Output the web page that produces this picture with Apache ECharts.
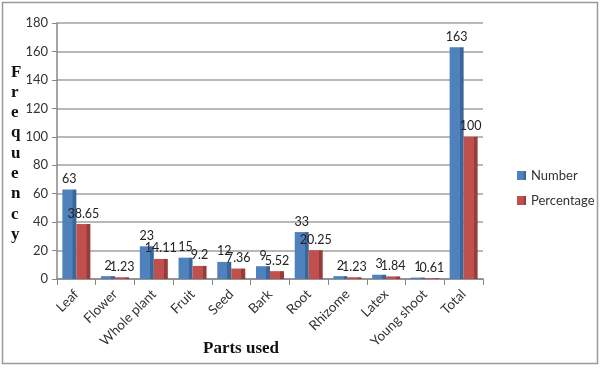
<!DOCTYPE html>
<html><head><meta charset="utf-8">
<script src="https://cdn.jsdelivr.net/npm/echarts@6/dist/echarts.min.js"></script>
<style>html,body{margin:0;padding:0;background:#fff}#c{width:601px;height:369px}</style>
</head><body><div id="c"></div>
<script>
var categories = ["Leaf","Flower","Whole plant","Fruit","Seed","Bark","Root","Rhizome","Latex","Young shoot","Total"];
var numberValues = [63,2,23,15,12,9,33,2,3,1,163];
var percentageValues = [38.65,1.23,14.11,9.2,7.36,5.52,20.25,1.23,1.84,0.61,100];
var yTicks = [0,20,40,60,80,100,120,140,160,180];

function grad(light, dark){
  return {type:'linear',x:0,y:0,x2:1,y2:0,colorStops:[
    {offset:0,color:light},{offset:0.72,color:light},{offset:0.73,color:dark},{offset:1,color:dark}]};
}
var chart = echarts.init(document.getElementById('c'), null, {renderer:'canvas'});
chart.setOption({
  animation:false,
  backgroundColor:'#fff',
  graphic:[
    {type:'rect',shape:{x:2.5,y:2.5,width:595,height:361},style:{fill:'none',stroke:'#9a9a9a',lineWidth:1.5},z:-1},
    {type:'text',left:11,top:62,style:{text:"F\nr\ne\nq\nu\ne\nn\nc\ny",font:'bold 17px "Liberation Serif"',lineHeight:20.3,fill:'#111',align:'center'}},
    {type:'text',left:203,top:340,style:{text:'Parts used',font:'bold 17px "Liberation Serif"',fill:'#111'}}
  ],
  legend:{
    orient:'vertical',left:512,top:164,itemWidth:9,itemHeight:9,itemGap:12,
    icon:'rect',textStyle:{fontFamily:'Lato',fontSize:13,color:'#333'},
    data:['Number','Percentage']
  },
  grid:{left:57,right:118,top:23,bottom:90},
  xAxis:{
    type:'category',data:categories,
    axisLine:{lineStyle:{color:'#888',width:1.5}},
    axisTick:{show:true,length:6,lineStyle:{color:'#888'}},
    axisLabel:{rotate:45,fontFamily:'Lato',fontSize:13.5,color:'#333',margin:13,interval:0}
  },
  yAxis:{
    type:'value',min:0,max:180,interval:20,
    axisLine:{show:true,lineStyle:{color:'#888',width:1.5}},
    axisTick:{show:true,length:5,lineStyle:{color:'#888'}},
    axisLabel:{fontFamily:'Lato',fontSize:13,color:'#333',margin:9},
    splitLine:{lineStyle:{color:'#a0a0a0',width:1.5}}
  },
  series:[
    {name:'Number',type:'bar',data:numberValues,barWidth:14,barGap:'0%',
     itemStyle:{color:grad('#4F81BD','#3A6699')},
     label:{show:true,position:'top',distance:4,fontFamily:'Lato',fontSize:12.5,color:'#222'}},
    {name:'Percentage',type:'bar',data:percentageValues,barWidth:14,
     itemStyle:{color:grad('#C0504D','#973C3A')},
     label:{show:true,position:'top',distance:4,fontFamily:'Lato',fontSize:12.5,color:'#222'}}
  ]
});
</script></body></html>
